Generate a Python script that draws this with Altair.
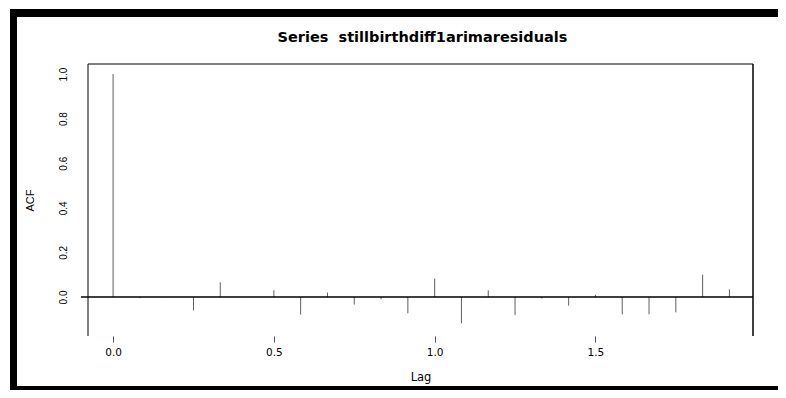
import altair as alt
import pandas as pd

# Data
lags = [0.0, 0.0833, 0.1667, 0.25, 0.3333, 0.4167, 0.5, 0.5833, 0.6667, 0.75, 0.8333, 0.9167,
        1.0, 1.0833, 1.1667, 1.25, 1.3333, 1.4167, 1.5, 1.5833, 1.6667, 1.75, 1.8333, 1.9167]
acf = [1.0, -0.005, 0.001, -0.06, 0.066, -0.001, 0.03, -0.079, 0.02, -0.034, -0.01, -0.073,
       0.082, -0.118, 0.03, -0.082, -0.007, -0.039, 0.01, -0.078, -0.078, -0.069, 0.1, 0.034]
x_ticks = [0.0, 0.5, 1.0, 1.5]
y_ticks = [0.0, 0.2, 0.4, 0.6, 0.8, 1.0]
title_text = "Series\u00a0 stillbirthdiff1arimaresiduals"

df = pd.DataFrame({"lag": lags, "acf": acf})

W, H = 665, 272
FONT = "Liberation Sans"
WIDE = "DejaVu Sans"
xscale = alt.Scale(domain=[-0.078, 1.99], nice=False, zero=False)
yscale = alt.Scale(domain=[-0.175, 1.045], nice=False, zero=False)

one = alt.Data(values=[{"a": 1}])

bars = alt.Chart(df).mark_rule(color="#606060", strokeWidth=1).encode(
    x=alt.X("lag:Q", scale=xscale,
            axis=alt.Axis(values=x_ticks, format=".1f", domain=False, grid=False,
                          tickSize=6, tickColor="#555555", tickWidth=1,
                          labelFont=WIDE, labelFontSize=10.5, labelColor="#000000",
                          labelPadding=5, title="Lag", titleFont=WIDE, titleFontSize=11.5,
                          titleFontWeight="normal", titleColor="#000000",
                          titleBaseline="alphabetic", titleY=44)),
    y=alt.Y("acf:Q", scale=yscale,
            axis=alt.Axis(values=y_ticks, format=".1f", domain=False, grid=False,
                          ticks=False, tickSize=0, labelAngle=270, labelAlign="center",
                          labelBaseline="bottom", labelPadding=20,
                          labelFont=FONT, labelFontSize=10, labelColor="#000000",
                          title="ACF", titleFont=FONT, titleFontSize=11,
                          titleFontWeight="normal", titleColor="#000000",
                          titleAngle=270, titleBaseline="bottom", titleAlign="center",
                          titleX=-53, titleY=H / 2)),
    y2=alt.datum(0),
)

zero_line = alt.Chart(one).mark_rule(color="black", strokeWidth=1.5, clip=False).encode(
    x=alt.datum(-0.1, scale=xscale), x2=alt.datum(1.99), y=alt.datum(0, scale=yscale)
)

box_top = alt.Chart(one).mark_rule(color="black", strokeWidth=1).encode(
    x=alt.value(0), x2=alt.value(W), y=alt.value(0))
box_left = alt.Chart(one).mark_rule(color="black", strokeWidth=1).encode(
    x=alt.value(0), y=alt.value(0), y2=alt.value(H))
box_right = alt.Chart(one).mark_rule(color="black", strokeWidth=1.5).encode(
    x=alt.value(W), y=alt.value(0), y2=alt.value(H))

# thick black frame around the picture (left, top, bottom)
frame_top = alt.Chart(one).mark_rect(color="black", clip=False).encode(
    x=alt.value(-78), x2=alt.value(690), y=alt.value(-55), y2=alt.value(-47))
frame_left = alt.Chart(one).mark_rect(color="black", clip=False).encode(
    x=alt.value(-78), x2=alt.value(-71), y=alt.value(-55), y2=alt.value(326))
frame_bottom = alt.Chart(one).mark_rect(color="black", clip=False).encode(
    x=alt.value(-78), x2=alt.value(690), y=alt.value(322), y2=alt.value(326))

title = alt.Chart(one).mark_text(
    text=title_text, font=WIDE, fontSize=14.5, fontWeight="bold",
    align="center", baseline="alphabetic", color="black"
).encode(x=alt.value(W / 2 + 2), y=alt.value(-22))

chart = alt.layer(
    bars, zero_line, box_top, box_left, box_right,
    frame_top, frame_left, frame_bottom, title
).properties(
    width=W, height=H,
    autosize=alt.AutoSizeParams(type="none"),
    padding={"left": 80, "top": 56, "right": 25, "bottom": 54},
).configure_view(stroke=None)

chart.save("out.html", embed_options={"renderer": "svg", "actions": False})
